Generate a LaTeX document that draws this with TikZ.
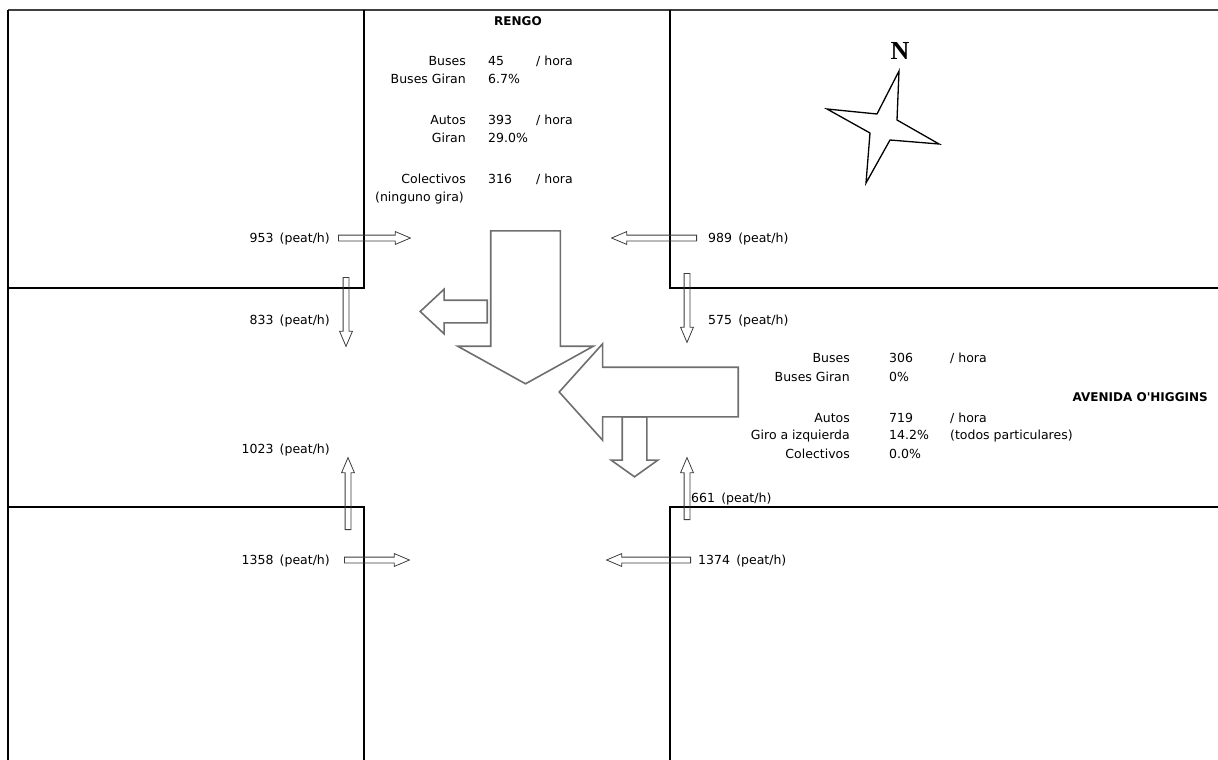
\documentclass[tikz,border=0pt]{standalone}
\usepackage{fontspec}
\setmainfont{DejaVu Sans}
\newfontfamily\streetfont{DejaVu Sans}[Ligatures=TeXOff]
\newfontfamily\compassfont{Liberation Serif}
\usetikzlibrary{shapes.arrows}
\definecolor{Curb}{HTML}{000000}
\definecolor{Flow}{HTML}{6E6E6E}
\definecolor{Walk}{HTML}{3C3C3C}

\begin{document}
\begin{tikzpicture}[x=1pt,y=-1pt,
  txt/.style={inner sep=0pt,text height=9pt,text depth=0pt,
    font=\fontsize{12.5}{14}\selectfont},
  street/.style={txt,font=\streetfont\fontsize{12}{14}\selectfont\bfseries},
  curb/.style={line width=2.5pt,draw=Curb},
  flow/.style={single arrow,draw=Flow,line width=1.6pt,inner xsep=0pt,
    single arrow head indent=0pt,anchor=tail},
  walk/.style={single arrow,draw=Walk,line width=.8pt,inner xsep=0pt,
    inner ysep=2.5pt,single arrow head extend=3.5pt,
    single arrow tip angle=46,anchor=tail}]
\useasboundingbox (0,0) rectangle (1218,760);

% block corners
\draw[line width=2pt,draw=black!75] (8,10) -- (1218,10);
\draw[curb] (8,10) -- (8,760);
\draw[curb] (364,10) -- (364,288) -- (8,288);
\draw[curb] (670,10) -- (670,288) -- (1218,288);
\draw[curb] (8,507) -- (364,507) -- (364,760);
\draw[curb] (1218,507) -- (670,507) -- (670,760);

% vehicle flows
\node[flow,rotate=-90,inner ysep=34pt,single arrow head extend=33pt,
  single arrow tip angle=122,minimum height=153pt] (southbound) at (525.5,230) {};
\node[flow,rotate=180,inner ysep=10.5pt,single arrow head extend=11pt,
  single arrow tip angle=86,minimum height=67pt] (turnwest) at (488,311.5) {};
\node[flow,rotate=180,inner ysep=24pt,single arrow head extend=23.5pt,
  single arrow tip angle=96,minimum height=179pt] (westbound) at (739,392) {};
\node[flow,rotate=-90,inner ysep=11.5pt,single arrow head extend=11pt,
  single arrow tip angle=109,minimum height=60pt] (turnsouth) at (634.5,416) {};

% pedestrian flows
\node[walk,minimum height=72pt] (pedNW) at (338,238) {};
\node[walk,rotate=180,minimum height=85pt] (pedNE) at (697,238) {};
\node[walk,rotate=-90,minimum height=69pt] (pedWN) at (346,277) {};
\node[walk,rotate=-90,minimum height=69pt] (pedEN) at (687,273) {};
\node[walk,rotate=90,minimum height=72pt] (pedWS) at (348,530) {};
\node[walk,rotate=90,minimum height=62pt] (pedES) at (687,520) {};
\node[walk,minimum height=65pt] (pedSW) at (344,560) {};
\node[walk,rotate=180,minimum height=84pt] (pedSE) at (691,560) {};

\node[txt,anchor=east] (cntNW) at (330,238) {953\enspace(peat/h)};
\node[txt,anchor=west] (cntNE) at (708,238) {989\enspace(peat/h)};
\node[txt,anchor=east] (cntWN) at (330,320) {833\enspace(peat/h)};
\node[txt,anchor=west] (cntEN) at (708,320) {575\enspace(peat/h)};
\node[txt,anchor=east] (cntWS) at (330,449) {1023\enspace(peat/h)};
\node[txt,anchor=west] (cntES) at (691,498) {661\enspace(peat/h)};
\node[txt,anchor=east] (cntSW) at (330,560) {1358\enspace(peat/h)};
\node[txt,anchor=west] (cntSE) at (698,560) {1374\enspace(peat/h)};

% Rengo approach
\node[street] (rengo) at (518,21) {RENGO};
\node[txt,anchor=east] (rBus) at (466,61) {Buses};
\node[txt,anchor=west] (rBusVal) at (488,61) {45};
\node[txt,anchor=west] (rBusUnit) at (536,61) {/ hora};
\node[txt,anchor=east] (rBusTurn) at (466,79) {Buses Giran};
\node[txt,anchor=west] (rBusTurnVal) at (488,79) {6.7\%};
\node[txt,anchor=east] (rCar) at (466,120) {Autos};
\node[txt,anchor=west] (rCarVal) at (488,120) {393};
\node[txt,anchor=west] (rCarUnit) at (536,120) {/ hora};
\node[txt,anchor=east] (rCarTurn) at (466,138) {Giran};
\node[txt,anchor=west] (rCarTurnVal) at (488,138) {29.0\%};
\node[txt,anchor=east] (rCol) at (466,179) {Colectivos};
\node[txt,anchor=west] (rColVal) at (488,179) {316};
\node[txt,anchor=west] (rColUnit) at (536,179) {/ hora};
\node[txt,anchor=east] (rColTurn) at (464,197) {(ninguno gira)};

% O'Higgins approach
\node[street,anchor=east] (ohiggins) at (1208,397) {AVENIDA O'HIGGINS};
\node[txt,anchor=east] (oBus) at (850,358) {Buses};
\node[txt,anchor=west] (oBusVal) at (889,358) {306};
\node[txt,anchor=west] (oBusUnit) at (950,358) {/ hora};
\node[txt,anchor=east] (oBusTurn) at (850,377) {Buses Giran};
\node[txt,anchor=west] (oBusTurnVal) at (889,377) {0\%};
\node[txt,anchor=east] (oCar) at (850,418) {Autos};
\node[txt,anchor=west] (oCarVal) at (889,418) {719};
\node[txt,anchor=west] (oCarUnit) at (950,418) {/ hora};
\node[txt,anchor=east] (oCarTurn) at (850,435) {Giro a izquierda};
\node[txt,anchor=west] (oCarTurnVal) at (889,435) {14.2\%};
\node[txt,anchor=west] (oCarNote) at (950,435) {(todos particulares)};
\node[txt,anchor=east] (oCol) at (850,454) {Colectivos};
\node[txt,anchor=west] (oColVal) at (889,454) {0.0\%};

% north star
\node[font=\compassfont\fontsize{26}{28}\selectfont\bfseries] (north) at (900,51) {N};
\draw[line width=1.3pt,line join=miter] (899,71) -- (897,120) -- (939,144) -- (890,140)
  -- (866,183) -- (870,133) -- (827,109) -- (877,114) -- cycle;
\end{tikzpicture}
\end{document}
